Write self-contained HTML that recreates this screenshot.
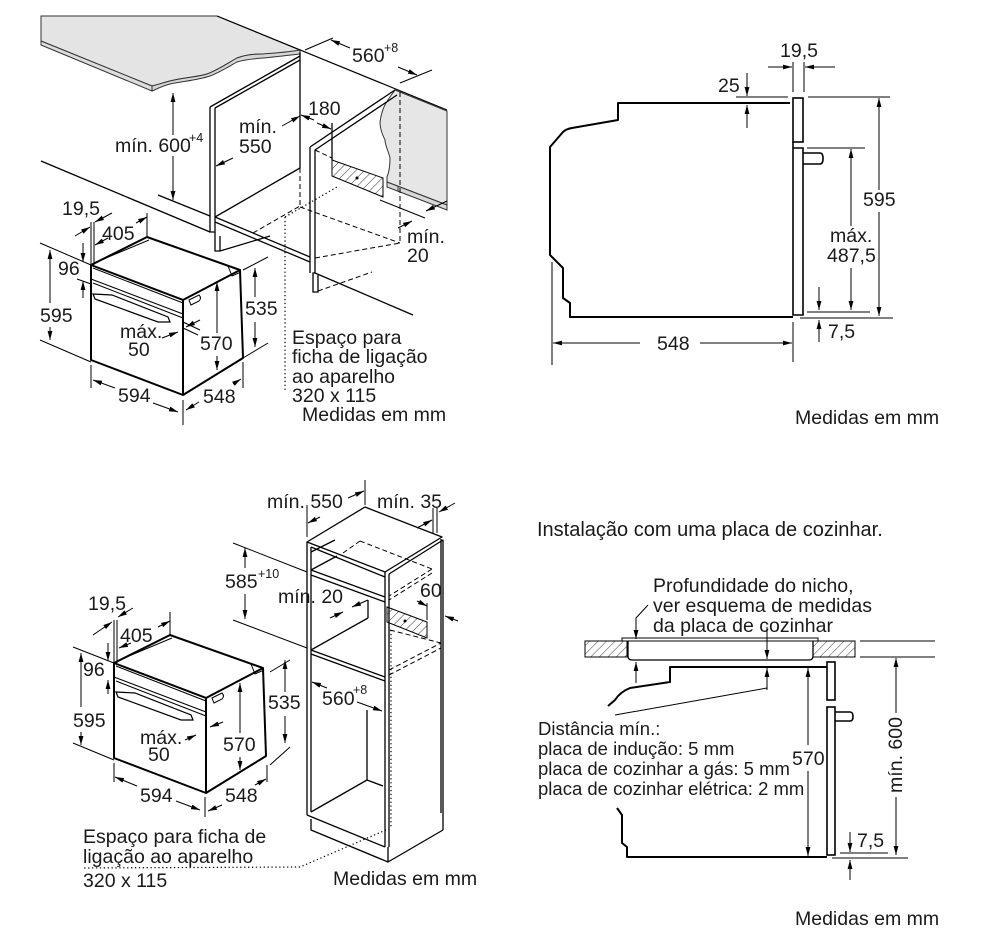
<!DOCTYPE html>
<html><head><meta charset="utf-8"><style>
html,body{margin:0;padding:0;background:#fff;}
svg{display:block;}
text{font-family:"Liberation Sans",Arial,sans-serif;font-size:19.5px;fill:#1a1a1a;}
.s{font-size:12.5px;}
.p{font-size:18.5px;}
.t{font-size:20px;}
</style></head><body>
<svg width="982" height="941" viewBox="0 0 982 941" xmlns="http://www.w3.org/2000/svg">
<defs>
<marker id="ar" viewBox="0 0 10 6" refX="10" refY="3" markerWidth="9" markerHeight="5.4" orient="auto-start-reverse" markerUnits="userSpaceOnUse"><path d="M0,0.3 L10,3 L0,5.7 z" fill="#000"/></marker>
<pattern id="h" width="6" height="6" patternUnits="userSpaceOnUse" patternTransform="rotate(45)"><line x1="0" y1="0" x2="0" y2="6" stroke="#222" stroke-width="0.9"/></pattern>
<g id="oven">
 <path d="M91,265 L147,237 L240,270 L243,358 L183,395 L91,360 Z" fill="none" stroke="#000" stroke-width="2" stroke-linejoin="round"/>
 <path d="M91,265 L183,300 L183,395 M183,300 L240,270" fill="none" stroke="#000" stroke-width="2"/>
 <path d="M94,263 L149,240 M93,268 L183,303 M91,279 L183,314 M93,283 L183,318 M228,266 L232,276 L241,272" fill="none" stroke="#000" stroke-width="1"/>
 <path d="M93,294 L112,295 L168,317 L170,322 L158,322 L95,299 Z" fill="none" stroke="#000" stroke-width="1.2"/>
 <path d="M189,300 L199,295 Q202,298 199,301 L191,305 Z" fill="none" stroke="#000" stroke-width="1"/>
</g>
</defs>

<!-- ================= TOP LEFT ================= -->
<path d="M41,16 L217,16 L300,50 C290,53 270,55 263,54 C250,54 242,56 237,58 C228,63 218,70 207,74 C197,77 182,78 170,81 C162,83 157,85 152,86 L41,41 Z" fill="#e4e4e4" stroke="#333" stroke-width="1"/>
<path d="M41,41 L152,86 L152,91 L41,45 Z" fill="#ddd" stroke="#333" stroke-width="1"/>
<path d="M152,86 C160,84 166,82 170,81 C182,78 197,77 207,74 C218,70 228,63 237,58 C245,55 255,54 263,54 C275,53 290,52 300,50 L300,54 C290,55 275,57 263,58 C250,59 243,60 237,62 C228,67 220,72 210,76 C198,80 185,81 170,84 C162,86 157,89 152,91 Z" fill="#d6d6d6" stroke="#333" stroke-width="1"/>
<line x1="217" y1="16" x2="447" y2="110" stroke="#000" stroke-width="1.2"/>
<path d="M395,90 L447,111 L447,205 L387,182 L387,177 C390,170 390,163 390,158 C388,150 385,145 385,140 C382,134 380,128 380,122 C381,115 383,108 386,103 C389,98 392,94 395,90 Z" fill="#e6e6e6" stroke="#333" stroke-width="1"/>
<path d="M387,182 L447,205 L447,210 L387,187 Z" fill="#d8d8d8" stroke="#333" stroke-width="1"/>
<line x1="398" y1="186" x2="398" y2="191" stroke="#333"/>
<g stroke="#000" stroke-width="1.3" fill="none">
 <path d="M210,107 L210,232 L215,232 L215,108 M210,107 L300,56 M215,108 L300,60"/>
 <line x1="300" y1="52" x2="300" y2="168"/>
 <line x1="215" y1="217" x2="300" y2="168"/>
 <line x1="215" y1="217" x2="310" y2="257"/>
 <line x1="215" y1="222" x2="310" y2="262"/>
 <path d="M215,232 L215,251 L220,251 L220,236 M220,251 L270,236"/>
 <line x1="41" y1="161" x2="210" y2="232"/>
 <line x1="158" y1="195" x2="210" y2="216"/>
 <path d="M310,147 L310,273 M315,150 L315,273 L313,273 L313,292 L318,292 L318,275 M310,147 L395,90 M315,150 L397,95"/>
 <line x1="315" y1="273" x2="413" y2="315"/>
 <line x1="332" y1="123" x2="332" y2="160"/>
</g>
<path d="M332,160 L383,178 L383,197 L332,176 Z" fill="url(#h)" stroke="#000" stroke-width="1"/>
<circle cx="357" cy="178" r="1.5" fill="#000"/>
<g stroke="#000" stroke-width="1" fill="none" stroke-dasharray="5,3">
 <line x1="300" y1="168" x2="300" y2="207"/>
 <line x1="253" y1="233" x2="300" y2="206"/>
 <line x1="300" y1="207" x2="400" y2="243"/>
 <line x1="315" y1="258" x2="400" y2="243"/>
 <line x1="400" y1="92" x2="400" y2="243"/>
 <line x1="315" y1="150" x2="332" y2="158"/>
 <line x1="318" y1="291" x2="372" y2="272"/>
</g>
<g stroke="#000" stroke-width="1.2" fill="none" stroke-dasharray="1.3,2.6">
 <line x1="285" y1="217" x2="285" y2="390"/>
 <line x1="285" y1="217" x2="337" y2="187"/>
</g>
<g stroke="#000" stroke-width="1" fill="none">
 <line x1="173" y1="135" x2="173" y2="93" marker-end="url(#ar)"/>
 <line x1="173" y1="156" x2="173" y2="200" marker-end="url(#ar)"/>
 <line x1="233" y1="158" x2="216" y2="166" marker-end="url(#ar)"/>
 <line x1="282" y1="126" x2="300" y2="116" marker-end="url(#ar)"/>
 <line x1="314" y1="120" x2="301" y2="115" marker-end="url(#ar)"/>
 <line x1="317" y1="123" x2="331" y2="129" marker-end="url(#ar)"/>
 <line x1="350" y1="48" x2="331" y2="40" marker-end="url(#ar)"/>
 <line x1="398" y1="67" x2="417" y2="75" marker-end="url(#ar)"/>
 <line x1="305" y1="50" x2="333" y2="38"/>
 <line x1="400" y1="83" x2="432" y2="70"/>
 <line x1="380" y1="200" x2="425" y2="218"/>
 <line x1="447" y1="201" x2="426" y2="211" marker-end="url(#ar)"/>
 <line x1="398" y1="228" x2="412" y2="221" marker-end="url(#ar)"/>
 <line x1="91" y1="222" x2="91" y2="265"/>
 <line x1="94" y1="222" x2="94" y2="265"/>
 <line x1="75" y1="236" x2="90" y2="227" marker-end="url(#ar)"/>
 <line x1="112" y1="213" x2="95" y2="222" marker-end="url(#ar)"/>
 <line x1="108" y1="238" x2="95" y2="245" marker-end="url(#ar)"/>
 <line x1="136" y1="223" x2="147" y2="217" marker-end="url(#ar)"/>
 <line x1="147" y1="213" x2="147" y2="237"/>
 <line x1="83" y1="243" x2="83" y2="262" marker-end="url(#ar)"/>
 <line x1="83" y1="298" x2="83" y2="281" marker-end="url(#ar)"/>
 <line x1="77" y1="279" x2="91" y2="284"/>
 <line x1="50" y1="303" x2="50" y2="250" marker-end="url(#ar)"/>
 <line x1="50" y1="327" x2="50" y2="340" marker-end="url(#ar)"/>
 <line x1="40" y1="243" x2="91" y2="265"/>
 <line x1="40" y1="340" x2="91" y2="362"/>
 <line x1="255" y1="297" x2="255" y2="268" marker-end="url(#ar)"/>
 <line x1="255" y1="322" x2="255" y2="347" marker-end="url(#ar)"/>
 <line x1="243" y1="270" x2="268" y2="257"/>
 <line x1="243" y1="358" x2="268" y2="343"/>
 <line x1="217" y1="333" x2="217" y2="282" marker-end="url(#ar)"/>
 <line x1="217" y1="356" x2="217" y2="370" marker-end="url(#ar)"/>
 <line x1="162" y1="338" x2="178" y2="332" marker-end="url(#ar)"/>
 <line x1="200" y1="320" x2="186" y2="327" marker-end="url(#ar)"/>
 <line x1="183" y1="322" x2="200" y2="330"/>
 <line x1="183" y1="328" x2="198" y2="335"/>
 <line x1="115" y1="388" x2="93" y2="380" marker-end="url(#ar)"/>
 <line x1="153" y1="403" x2="178" y2="412" marker-end="url(#ar)"/>
 <line x1="91" y1="365" x2="91" y2="388"/>
 <line x1="183" y1="400" x2="183" y2="425"/>
 <line x1="199" y1="402" x2="186" y2="410" marker-end="url(#ar)"/>
 <line x1="233" y1="384" x2="241" y2="379" marker-end="url(#ar)"/>
 <line x1="243" y1="362" x2="243" y2="388"/>
</g>
<use href="#oven"/>
<text x="115" y="152">mín. 600</text><text class="s" x="189" y="142">+4</text>
<text x="239" y="133">mín.</text><text x="239" y="153">550</text>
<text x="308" y="115">180</text>
<text x="352" y="62">560</text><text class="s" x="384" y="52">+8</text>
<text x="407" y="243">mín.</text><text x="407" y="262">20</text>
<text x="62" y="215">19,5</text>
<text x="102" y="240">405</text>
<text x="58" y="275">96</text>
<text x="40" y="322">595</text>
<text x="245" y="315">535</text>
<text x="200" y="350">570</text>
<text x="120" y="338">máx.</text><text x="128" y="356">50</text>
<text x="118" y="402">594</text>
<text x="203" y="403">548</text>
<text x="292" y="344">Espaço para</text>
<text x="292" y="363">ficha de ligação</text>
<text x="292" y="383">ao aparelho</text>
<text x="292" y="402">320 x 115</text>
<text x="302" y="421">Medidas em mm</text>

<!-- ================= TOP RIGHT ================= -->
<path d="M790,103 L618,103 L618,120 L572,128 Q566,129 563,132 L550,147 L550,255 L563,268 L563,298 L570,303 L570,317 L793,317" fill="none" stroke="#000" stroke-width="2" stroke-linejoin="round"/>
<rect x="793" y="98" width="10" height="44" fill="none" stroke="#000" stroke-width="1.6"/>
<path d="M793,142 L793,148 M793,148 L803,148 L803,315 L793,315 L793,148" fill="none" stroke="#000" stroke-width="1.6"/>
<path d="M803,153 L820,153 Q823,153 823,158.5 Q823,164 820,164 L803,164" fill="none" stroke="#000" stroke-width="1.6"/>
<g stroke="#000" stroke-width="1" fill="none">
 <line x1="793" y1="62" x2="793" y2="92"/>
 <line x1="804" y1="62" x2="804" y2="92"/>
 <line x1="768" y1="67" x2="792" y2="67" marker-end="url(#ar)"/>
 <line x1="835" y1="67" x2="805" y2="67" marker-end="url(#ar)"/>
 <line x1="747" y1="73" x2="747" y2="96" marker-end="url(#ar)"/>
 <line x1="747" y1="128" x2="747" y2="105" marker-end="url(#ar)"/>
 <line x1="736" y1="97" x2="788" y2="97"/>
 <line x1="879" y1="190" x2="879" y2="98" marker-end="url(#ar)"/>
 <line x1="879" y1="212" x2="879" y2="316" marker-end="url(#ar)"/>
 <line x1="808" y1="97" x2="890" y2="97"/>
 <line x1="800" y1="318" x2="893" y2="318"/>
 <line x1="851" y1="226" x2="851" y2="149" marker-end="url(#ar)"/>
 <line x1="851" y1="268" x2="851" y2="310" marker-end="url(#ar)"/>
 <line x1="807" y1="148" x2="865" y2="148"/>
 <line x1="819" y1="287" x2="819" y2="310" marker-end="url(#ar)"/>
 <line x1="819" y1="342" x2="819" y2="320" marker-end="url(#ar)"/>
 <line x1="807" y1="312" x2="870" y2="312"/>
 <line x1="640" y1="343" x2="553" y2="343" marker-end="url(#ar)"/>
 <line x1="700" y1="343" x2="792" y2="343" marker-end="url(#ar)"/>
 <line x1="552" y1="262" x2="552" y2="365"/>
 <line x1="793" y1="322" x2="793" y2="362"/>
</g>
<text x="780" y="57">19,5</text>
<text x="718" y="92">25</text>
<text x="863" y="206">595</text>
<text x="830" y="242">máx.</text><text x="827" y="262">487,5</text>
<text x="828" y="338">7,5</text>
<text x="657" y="350">548</text>
<text x="795" y="424">Medidas em mm</text>

<!-- ================= BOTTOM LEFT ================= -->
<use href="#oven" transform="translate(23,398)"/>
<g stroke="#000" stroke-width="1" fill="none">
 <line x1="114" y1="620" x2="114" y2="663"/>
 <line x1="117" y1="620" x2="117" y2="663"/>
 <line x1="93" y1="635" x2="112" y2="622" marker-end="url(#ar)"/>
 <line x1="133" y1="608" x2="118" y2="617" marker-end="url(#ar)"/>
 <line x1="131" y1="643" x2="119" y2="648" marker-end="url(#ar)"/>
 <line x1="158" y1="627" x2="170" y2="621" marker-end="url(#ar)"/>
 <line x1="170" y1="612" x2="170" y2="635"/>
 <line x1="108" y1="643" x2="108" y2="661" marker-end="url(#ar)"/>
 <line x1="108" y1="694" x2="108" y2="680" marker-end="url(#ar)"/>
 <line x1="81" y1="707" x2="81" y2="653" marker-end="url(#ar)"/>
 <line x1="81" y1="732" x2="81" y2="745" marker-end="url(#ar)"/>
 <line x1="73" y1="647" x2="114" y2="663"/>
 <line x1="73" y1="743" x2="114" y2="760"/>
 <line x1="285" y1="692" x2="285" y2="660" marker-end="url(#ar)"/>
 <line x1="285" y1="716" x2="285" y2="743" marker-end="url(#ar)"/>
 <line x1="270" y1="672" x2="290" y2="660"/>
 <line x1="270" y1="765" x2="290" y2="747"/>
 <line x1="240" y1="733" x2="240" y2="683" marker-end="url(#ar)"/>
 <line x1="240" y1="757" x2="240" y2="770" marker-end="url(#ar)"/>
 <line x1="185" y1="740" x2="196" y2="735" marker-end="url(#ar)"/>
 <line x1="223" y1="722" x2="210" y2="727" marker-end="url(#ar)"/>
 <line x1="137" y1="786" x2="115" y2="777" marker-end="url(#ar)"/>
 <line x1="176" y1="801" x2="200" y2="810" marker-end="url(#ar)"/>
 <line x1="114" y1="763" x2="114" y2="782"/>
 <line x1="205" y1="797" x2="205" y2="817"/>
 <line x1="222" y1="805" x2="208" y2="811" marker-end="url(#ar)"/>
 <line x1="255" y1="785" x2="266" y2="779" marker-end="url(#ar)"/>
 <line x1="267" y1="765" x2="267" y2="782"/>
</g>
<g stroke="#000" stroke-width="1.3" fill="none" stroke-linejoin="round">
 <path d="M307,542 L307,815 M311,547 L311,812"/>
 <path d="M307,542 L365,507 L370,509 L442,537 L385,572 Z"/>
 <path d="M311,547 L385,577"/>
 <path d="M385,572 L385,847 M389,574 L389,847"/>
 <path d="M389,574 L443,540 L443,830 M441,539 L441,813"/>
 <path d="M307,815 L385,847 M311,812 L367,780 L383,786"/>
 <path d="M311,819 L311,830 L388,862 L443,830 M388,847 L388,862"/>
 <line x1="367" y1="710" x2="367" y2="780"/>
 <line x1="368" y1="600" x2="368" y2="618"/>
 <path d="M311,570 L385,597 M311,575 L385,602 M311,570 L337,556"/>
 <path d="M311,650 L385,677 M311,654 L385,681 M311,650 L368,618"/>
 <line x1="311" y1="552" x2="335" y2="540"/>
</g>
<path d="M387,607 L427,622 L427,638 L387,622 Z" fill="url(#h)" stroke="#000" stroke-width="1"/>
<circle cx="405" cy="621" r="1.5" fill="#000"/>
<g stroke="#000" stroke-width="1" fill="none" stroke-dasharray="5,3">
 <line x1="343" y1="553" x2="360" y2="541"/>
 <line x1="360" y1="541" x2="432" y2="569"/>
 <line x1="432" y1="569" x2="389" y2="596"/>
 <line x1="432" y1="573" x2="389" y2="600"/>
 <line x1="390" y1="630" x2="441" y2="643"/>
 <line x1="389" y1="670" x2="441" y2="643"/>
 <line x1="389" y1="675" x2="441" y2="648"/>
</g>
<g stroke="#000" stroke-width="1.2" fill="none" stroke-dasharray="1.3,2.6">
 <line x1="391" y1="630" x2="391" y2="828"/>
 <path d="M386,830 L300,867 L83,868"/>
</g>
<g stroke="#000" stroke-width="1" fill="none">
 <line x1="245" y1="568" x2="245" y2="548" marker-end="url(#ar)"/>
 <line x1="245" y1="594" x2="245" y2="619" marker-end="url(#ar)"/>
 <line x1="233" y1="543" x2="307" y2="572"/>
 <line x1="233" y1="620" x2="307" y2="648"/>
 <line x1="320" y1="517" x2="308" y2="523" marker-end="url(#ar)"/>
 <line x1="348" y1="498" x2="364" y2="491" marker-end="url(#ar)"/>
 <line x1="307" y1="505" x2="307" y2="537"/>
 <line x1="365" y1="480" x2="365" y2="505"/>
 <line x1="417" y1="528" x2="432" y2="520" marker-end="url(#ar)"/>
 <line x1="455" y1="503" x2="439" y2="512" marker-end="url(#ar)"/>
 <line x1="433" y1="508" x2="433" y2="533"/>
 <line x1="437" y1="508" x2="437" y2="533"/>
 <line x1="458" y1="621" x2="445" y2="616" marker-end="url(#ar)"/>
 <line x1="417" y1="601" x2="427" y2="606" marker-end="url(#ar)"/>
 <line x1="427" y1="603" x2="427" y2="620"/>
 <line x1="368" y1="600" x2="352" y2="607" marker-end="url(#ar)"/>
 <line x1="330" y1="618" x2="343" y2="612" marker-end="url(#ar)"/>
 <line x1="327" y1="688" x2="312" y2="682" marker-end="url(#ar)"/>
 <line x1="357" y1="702" x2="382" y2="711" marker-end="url(#ar)"/>
</g>
<text x="88" y="610">19,5</text>
<text x="120" y="642">405</text>
<text x="83" y="676">96</text>
<text x="73" y="727">595</text>
<text x="140" y="744">máx.</text><text x="148" y="761">50</text>
<text x="223" y="751">570</text>
<text x="268" y="709">535</text>
<text x="140" y="802">594</text>
<text x="225" y="802">548</text>
<text x="267" y="508">mín. 550</text>
<text x="377" y="508">mín. 35</text>
<text x="225" y="588">585</text><text class="s" x="258" y="578">+10</text>
<text x="278" y="603">mín. 20</text>
<text x="420" y="597">60</text>
<text x="322" y="705">560</text><text class="s" x="353" y="694">+8</text>
<text x="83" y="843">Espaço para ficha de</text>
<text x="83" y="863">ligação ao aparelho</text>
<text x="83" y="887">320 x 115</text>
<text x="333" y="885">Medidas em mm</text>

<!-- ================= BOTTOM RIGHT ================= -->
<text class="t" x="537" y="536">Instalação com uma placa de cozinhar.</text>
<text x="653" y="592">Profundidade do nicho,</text>
<text x="653" y="612">ver esquema de medidas</text>
<text x="653" y="632">da placa de cozinhar</text>
<rect x="585" y="641" width="42" height="16" fill="url(#h)" stroke="#000" stroke-width="1"/>
<rect x="813" y="641" width="42" height="16" fill="url(#h)" stroke="#000" stroke-width="1"/>
<rect x="622" y="638" width="196" height="3" fill="#fff" stroke="#000" stroke-width="1"/>
<path d="M628,641 L628,656 Q628,660 632,660 L809,660 Q813,660 813,656 L813,641" fill="none" stroke="#000" stroke-width="1.3"/>
<g stroke="#000" stroke-width="1" fill="none">
 <line x1="860" y1="641" x2="935" y2="641"/>
 <line x1="860" y1="657" x2="935" y2="657"/>
 <path d="M648,605 L636,618 L636,639" marker-end="url(#ar)"/>
 <line x1="767" y1="627" x2="767" y2="659" marker-end="url(#ar)"/>
 <line x1="767" y1="690" x2="767" y2="668" marker-end="url(#ar)"/>
 <line x1="767" y1="688" x2="615" y2="715"/>
 <line x1="636" y1="683" x2="636" y2="662" marker-end="url(#ar)"/>
 <line x1="808" y1="745" x2="808" y2="668" marker-end="url(#ar)"/>
 <line x1="808" y1="771" x2="808" y2="856" marker-end="url(#ar)"/>
 <line x1="896" y1="713" x2="896" y2="658" marker-end="url(#ar)"/>
 <line x1="896" y1="797" x2="896" y2="855" marker-end="url(#ar)"/>
 <line x1="850" y1="832" x2="850" y2="852" marker-end="url(#ar)"/>
 <line x1="850" y1="880" x2="850" y2="860" marker-end="url(#ar)"/>
 <line x1="840" y1="853" x2="888" y2="853"/>
 <line x1="832" y1="858" x2="908" y2="858"/>
</g>
<path d="M827,667 L670,667 L670,682 L630,688 Q620,692 615,700 L608,706" fill="none" stroke="#000" stroke-width="2" stroke-linejoin="round"/>
<path d="M617,808 L622,815 L622,843 L627,847 L627,857 L827,857" fill="none" stroke="#000" stroke-width="2" stroke-linejoin="round"/>
<rect x="827" y="662" width="8" height="38" fill="none" stroke="#000" stroke-width="1.6"/>
<rect x="827" y="707" width="8" height="148" fill="none" stroke="#000" stroke-width="1.6"/>
<path d="M835,712 L850,712 Q853,712 853,716.5 Q853,721 850,721 L835,721" fill="none" stroke="#000" stroke-width="1.6"/>
<text class="p" x="538" y="735">Distância mín.:</text>
<text class="p" x="538" y="755">placa de indução: 5 mm</text>
<text class="p" x="538" y="775">placa de cozinhar a gás: 5 mm</text>
<text class="p" x="538" y="795">placa de cozinhar elétrica: 2 mm</text>
<text x="792" y="765">570</text>
<text x="857" y="847">7,5</text>
<text transform="translate(902,755) rotate(-90)" text-anchor="middle">mín. 600</text>
<text x="795" y="925">Medidas em mm</text>
</svg>
</body></html>
